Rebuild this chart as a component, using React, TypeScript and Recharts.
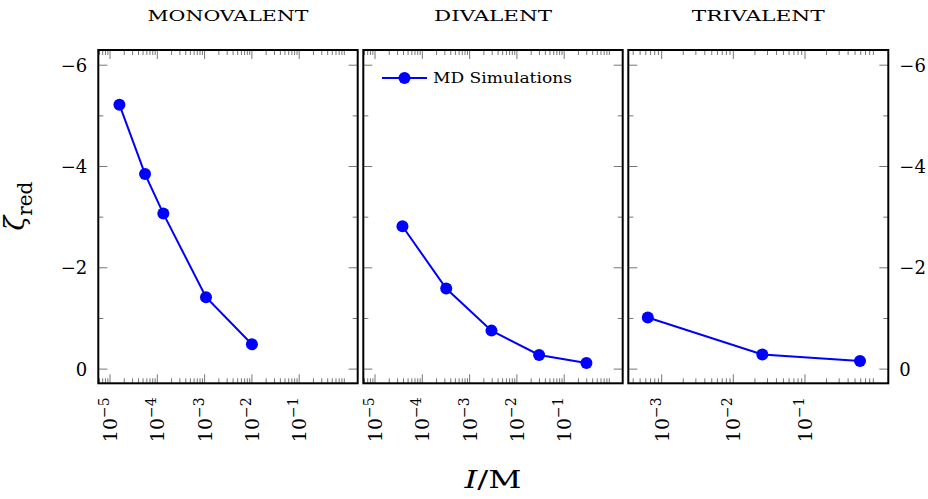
import React from 'react';
import { LineChart, Line, XAxis, YAxis, Legend } from 'recharts';

// ionic strength (M) and reduced zeta potential per valence
const monoI = [1.58e-5, 5.5e-5, 1.34e-4, 1.07e-3, 1.0e-2];
const monoZeta = [-5.22, -3.85, -3.07, -1.42, -0.49];
const diI = [3.8e-5, 3.2e-4, 2.9e-3, 2.95e-2, 0.295];
const diZeta = [-2.82, -1.59, -0.76, -0.28, -0.12];
const triI = [6.4e-4, 2.54e-2, 0.586];
const triZeta = [-1.02, -0.29, -0.16];

const panelTitles = ['MONOVALENT', 'DIVALENT', 'TRIVALENT'];
const wideDecades = [-5, -4, -3, -2, -1];
const narrowDecades = [-3, -2, -1];
const yMajor = [-6, -4, -2, 0];
const yMinor = [-5, -3, -1];

const W = 928;
const H = 499;
const TOP = 50;
const BOTTOM = 383.3;
const FONT = '"DejaVu Serif", serif';
const BLUE = '#0000ff';
const TICK = '#777';

const toRows = (xs: number[], ys: number[]) => xs.map((x, i) => ({ x, y: ys[i] }));

const minorTicks = (lo: number, hi: number) => {
  const out: number[] = [];
  for (let e = Math.floor(Math.log10(lo)); e < 0; e++) {
    for (let m = 2; m <= 9; m++) {
      const v = m * Math.pow(10, e);
      if (v > lo && v < hi) out.push(v);
    }
  }
  return out;
};

const isDecade = (v: number) => Math.abs(Math.log10(v) - Math.round(Math.log10(v))) < 1e-6;

// ticks point inwards from the frame; labels hang below the bottom edge
const BottomTick = (props: any) => {
  const { x, payload } = props;
  const y = BOTTOM;
  const v = payload.value;
  const major = isDecade(v);
  const len = major ? 9 : 5;
  return (
    <g>
      <line x1={x} x2={x} y1={y} y2={y - len} stroke={TICK} strokeWidth={1} />
      {major && (
        <g transform={`translate(${x},${y + 14}) rotate(-90)`}>
          <text x={0} y={7} textAnchor="end" fontFamily={FONT} fontSize={19} fill="#000">
            10
            <tspan fontSize={14} dy={-8}>{'\u2212' + Math.abs(Math.round(Math.log10(v)))}</tspan>
          </text>
        </g>
      )}
    </g>
  );
};

const TopTick = (props: any) => {
  const { x, payload } = props;
  const len = isDecade(payload.value) ? 9 : 5;
  return <line x1={x} x2={x} y1={TOP} y2={TOP + len} stroke={TICK} strokeWidth={1} />;
};

const yLabel = (v: number) => (v === 0 ? '0' : '\u2212' + Math.abs(v));

const makeLeftTick = (edge: number, labels: boolean) => (props: any) => {
  const { y, payload } = props;
  const x = edge;
  const major = yMajor.includes(payload.value);
  return (
    <g>
      <line x1={x} x2={x + (major ? 9 : 5)} y1={y} y2={y} stroke={TICK} strokeWidth={1} />
      {labels && major && (
        <text x={x - 11} y={y + 6.5} textAnchor="end" fontFamily={FONT} fontSize={18} fill="#000">
          {yLabel(payload.value)}
        </text>
      )}
    </g>
  );
};

const makeRightTick = (edge: number, labels: boolean) => (props: any) => {
  const { y, payload } = props;
  const x = edge;
  const major = yMajor.includes(payload.value);
  return (
    <g>
      <line x1={x} x2={x - (major ? 9 : 5)} y1={y} y2={y} stroke={TICK} strokeWidth={1} />
      {labels && major && (
        <text x={x + 11} y={y + 6.5} textAnchor="start" fontFamily={FONT} fontSize={18} fill="#000">
          {yLabel(payload.value)}
        </text>
      )}
    </g>
  );
};

const LegendBox = () => (
  <svg width={210} height={24}>
    <line x1={2} x2={47} y1={12} y2={12} stroke={BLUE} strokeWidth={2} />
    <circle cx={24.5} cy={12} r={6} fill={BLUE} />
    <text x={53} y={17} fontFamily={FONT} fontSize={14} textLength={139} lengthAdjust="spacingAndGlyphs">
      MD Simulations
    </text>
  </svg>
);

interface PanelProps {
  rows: { x: number; y: number }[];
  left: number;
  right: number;
  lo: number;
  hi: number;
  decades: number[];
  leftLabels?: boolean;
  rightLabels?: boolean;
  legend?: boolean;
}

function Panel({ rows, left, right, lo, hi, decades, leftLabels, rightLabels, legend }: PanelProps) {
  const xTicks = [...decades.map((d) => Math.pow(10, d)), ...minorTicks(lo, hi)];
  const yTicks = [...yMajor, ...yMinor];
  return (
    <LineChart
      width={W}
      height={H}
      data={rows}
      margin={{ top: TOP - 1, bottom: H - BOTTOM - 1, left: left - 1, right: W - right - 1 }}
      style={{ position: 'absolute', left: 0, top: 0 }}
    >
      <XAxis
        xAxisId="b"
        dataKey="x"
        type="number"
        scale="log"
        domain={[lo, hi]}
        allowDataOverflow
        ticks={xTicks}
        interval={0}
        height={1}
        tickSize={0}
        tickMargin={0}
        tickLine={false}
        axisLine={false}
        tick={BottomTick}
      />
      <XAxis
        xAxisId="t"
        orientation="top"
        dataKey="x"
        type="number"
        scale="log"
        domain={[lo, hi]}
        allowDataOverflow
        ticks={xTicks}
        interval={0}
        height={1}
        tickSize={0}
        tickMargin={0}
        tickLine={false}
        axisLine={false}
        tick={TopTick}
      />
      <YAxis
        yAxisId="l"
        type="number"
        domain={[-6.3, 0.28]}
        reversed
        allowDataOverflow
        ticks={yTicks}
        interval={0}
        width={1}
        tickSize={0}
        tickMargin={0}
        tickLine={false}
        axisLine={false}
        tick={makeLeftTick(left, !!leftLabels)}
      />
      <YAxis
        yAxisId="r"
        orientation="right"
        type="number"
        domain={[-6.3, 0.28]}
        reversed
        allowDataOverflow
        ticks={yTicks}
        interval={0}
        width={1}
        tickSize={0}
        tickMargin={0}
        tickLine={false}
        axisLine={false}
        tick={makeRightTick(right, !!rightLabels)}
      />
      {legend && (
        <Legend
          layout="horizontal"
          verticalAlign="middle"
          align="center"
          content={LegendBox}
          wrapperStyle={{ position: 'absolute', left: 380, top: 66, width: 210, height: 24 }}
        />
      )}
      <Line
        xAxisId="b"
        yAxisId="l"
        dataKey="y"
        name="MD Simulations"
        stroke={BLUE}
        strokeWidth={2}
        dot={{ r: 6, fill: BLUE, stroke: BLUE, strokeWidth: 0 }}
        isAnimationActive={false}
      />
    </LineChart>
  );
}

export default function App() {
  const wideLo = Math.pow(10, -5.248);
  const wideHi = Math.pow(10, 0.237);
  const narrowLo = Math.pow(10, -3.466);
  const narrowHi = Math.pow(10, 0.163);
  const boxes = [
    [98.3, 357.7],
    [363.3, 622.7],
    [628.3, 888.3],
  ];
  return (
    <div style={{ position: 'absolute', left: 0, top: 0, width: W, height: H, background: '#fff' }}>
      <Panel rows={toRows(monoI, monoZeta)} left={98.3} right={357.7} lo={wideLo} hi={wideHi} decades={wideDecades} leftLabels />
      <Panel rows={toRows(diI, diZeta)} left={363.3} right={622.7} lo={wideLo} hi={wideHi} decades={wideDecades} legend />
      <Panel rows={toRows(triI, triZeta)} left={628.3} right={888.3} lo={narrowLo} hi={narrowHi} decades={narrowDecades} rightLabels />
      <svg width={W} height={H} style={{ position: 'absolute', left: 0, top: 0, pointerEvents: 'none' }}>
        {boxes.map(([l, r]) => (
          <rect key={l} x={l} y={TOP} width={r - l} height={BOTTOM - TOP} fill="none" stroke="#000" strokeWidth={2} />
        ))}
        {[228, 493, 758.3].map((cx, i) => (
          <text
            key={panelTitles[i]}
            x={cx}
            y={21}
            textAnchor="middle"
            fontFamily={FONT}
            fontSize={15.5}
            textLength={[161, 118, 133][i]}
            lengthAdjust="spacingAndGlyphs"
          >
            {panelTitles[i]}
          </text>
        ))}
        <text x={493} y={488} textAnchor="middle" fontFamily={FONT} fontSize={25} textLength={57} lengthAdjust="spacingAndGlyphs">
          <tspan fontStyle="italic">I</tspan>/M
        </text>
        <g transform="translate(24,206) rotate(-90)">
          <text x={0} y={0} textAnchor="middle" fontFamily={FONT} fontSize={27} fontStyle="italic">
            ζ
            <tspan fontSize={20} fontStyle="normal" dy={8}>red</tspan>
          </text>
        </g>
      </svg>
    </div>
  );
}
